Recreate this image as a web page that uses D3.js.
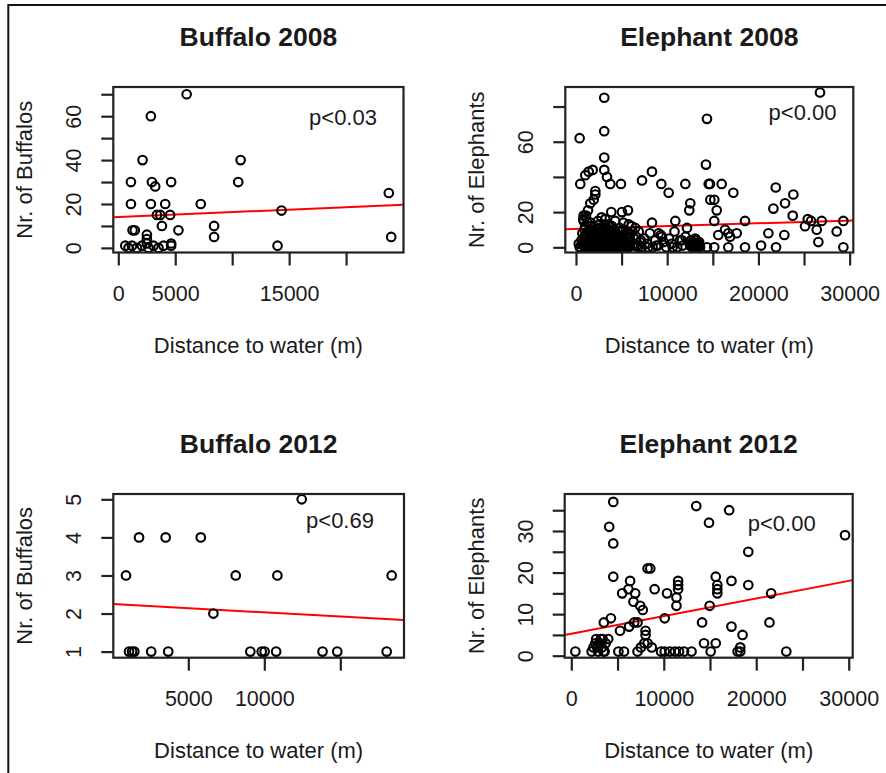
<!DOCTYPE html>
<html>
<head>
<meta http-equiv="Content-Type" content="text/html;charset=utf-8"/>
<title>Distance to water</title>
<script src="https://d3js.org/d3.v7.min.js"></script>
<style type="text/css">
	body { margin: 0; background: #fff; }
	svg text { font-family: "Liberation Sans", Arial, sans-serif; fill: #1a1a1a; }
	.pt { fill: none; stroke: #000; stroke-width: 2.1; }
	.box { fill: none; stroke: #222; stroke-width: 2.2; }
	.axis line { stroke: #222; stroke-width: 2.2; }
	.fit { stroke: #f00; stroke-width: 2; }
	.frame { fill: none; stroke: #111; stroke-width: 2; }
</style>
</head>
<body>
<script type="text/javascript">

//Points: [distance to water (m), count]
var buf08 = [
	[6000,70],[2860,60],[2130,40],[1110,30],[2950,30],[4640,30],[3240,28],
	[1110,20],[2860,20],[4120,20],[7240,20],[10530,30],[10740,40],
	[3390,15],[3680,15],[4550,15],[3830,10],[5280,8],[1250,8],[1450,8],
	[2510,6],[2510,4],[2510,2],[8410,10],[8410,5],[14330,17],[13980,1],
	[23750,25],[23960,5],
	[613,1],[900,0],[1200,1],[1640,0],[2075,1],[2650,0],[3090,1],[3530,0],[3970,1],[4640,1],[4640,2]
];

var ele08 = [
	//sparse points
	[3100,85],[3100,66],[400,62],[3100,51],[3100,44],[3400,40],[3760,36],[4930,36],[470,36],
	[1020,41],[1390,43],[1830,44],[2120,32],[2120,30],[1940,27],[1570,25],[1320,21],[840,18],[840,15],
	[3870,20],[3210,16],[5040,20],[5700,21],[7240,38],[8330,43],[9350,36],[10160,31],[11990,36],
	[14360,73],[14250,47],[14550,36],[12530,25],[12420,21],[10890,15],[8330,14],[5780,13],[6880,9],
	[9070,8],[9430,6],[12170,11],[11620,4],[13080,5],[14730,27],
	[26750,88],[14690,36],[15970,36],[17250,31],[15160,27],[15430,21],[15160,15],[18530,15],
	[16340,10],[16700,8],[15600,7],[17620,8],[16890,6],[16700,0],[15160,0],[18530,0],[20290,1],
	[21090,8],[21930,0],[22840,7],[21900,34],[21640,22],[22920,25],[23830,30],[23760,18],
	[25110,12],[25410,16],[25770,15],[26390,10],[26940,15],[26570,3],[28580,9],[29310,15],[29310,0],[14360,0],
	//dense cluster near water
	[300,2],[500,0],[600,4],[800,1],[900,6],[1000,0],[1100,3],[1200,8],[1300,1],[1400,5],[1500,10],
	[1600,2],[1700,0],[1800,7],[1900,4],[2000,12],[2100,1],[2200,9],[2300,3],[2400,0],[2500,6],
	[2600,11],[2700,2],[2800,5],[2900,0],[3000,8],[3100,3],[3200,13],[3300,1],[3400,6],[3500,0],
	[3600,10],[3700,4],[3800,2],[3900,7],[4000,0],[4100,5],[4200,1],[4300,9],[4400,3],[4500,0],
	[4600,6],[4700,2],[4800,11],[4900,4],[5000,0],[5200,7],[5400,2],[5600,5],[5800,0],[6000,3],
	[6200,9],[6400,1],[6600,6],[6800,0],[7000,3],
	[700,8],[1000,12],[1250,14],[1450,3],[1650,7],[1850,1],[2050,5],[2350,6],[2550,1],[2750,9],
	[2950,4],[3150,0],[3350,11],[3550,7],[3750,0],[3950,3],[4150,8],[4350,1],[4550,4],[4750,7],
	[4950,2],[5100,10],[5300,4],[5500,1],[5700,8],[5900,6],
	[800,16],[1100,18],[1600,14],[2400,15],[2800,17],[3600,13],[4300,15],[5200,14],[6100,12],[6500,11],
	[400,0],[650,2],[950,3],[1150,1],[1350,0],[1550,4],[1750,2],[1950,0],[2150,3],[2450,2],
	[2650,4],[2850,1],[3050,2],[3250,4],[3450,2],[3650,1],[3850,0],[4050,2],[4250,3],[4450,1],
	[4650,0],[4850,3],[5050,1],[5250,2],[5450,0],[5650,3],[5850,1],[6300,2],[6700,1],[7100,4],
	[1050,6],[1350,9],[1750,10],[2250,8],[2650,7],[3050,10],[3450,9],[3850,5],[4250,6],[4650,9],
	[5150,5],[5550,7],[950,10],[2150,6],[2950,6],[3750,8],[4450,7],[1550,12],[2550,13],[3950,12],
	[7200,0],[7500,5],[7800,2],[8100,8],[8400,0],[8700,4],[9000,1],[9300,7],[9600,3],[9900,0],
	[10200,5],[10500,2],[10800,9],[11100,0],[11400,4],[11700,1],[12000,6],[7900,0],[8800,1],[10600,0],
	[12500,1],[12700,0],[12800,3],[12900,1],[13000,0],[13100,4],[13200,2],[13300,0],[13400,1],
	[13500,3],[13600,0],[13050,2],[12650,2],[12850,0],[13250,1],[12600,4],[13450,2]
];

var buf12 = [
	[900,3],[1760,4],[3510,4],[5820,4],[8120,3],[10860,3],[12460,5],[18380,3],[6650,2],
	[1100,1],[1300,1],[1450,1],[2560,1],[3680,1],[9080,1],[9830,1],[10020,1],[10780,1],
	[13830,1],[14800,1],[18050,1]
];

var ele12 = [
	[440,1],[4100,31],[4540,27],[4540,37],[4540,19],[3520,8],[4280,9],[3990,4],[2690,4],[3180,4],
	[3720,3],[2400,2],[2900,1],[3300,2],[3600,1],[2200,1],[3000,3],[3400,4],[2600,3],[5090,1],
	[5270,6],[5500,15],[6360,18],[6180,16],[6910,15],[6720,13],[7450,12],[7730,11],[6250,7],[6800,8],
	[7160,8],[8030,6],[8030,5],[7890,3],[7520,2],[7160,1],[8250,3],[8250,21],[8540,21],[9010,16],
	[10100,9],[10350,15],[11370,14],[11370,12],[11550,18],[11550,17],[11550,16],[10100,1],[10650,1],
	[11200,1],[11650,1],[12200,1],[13000,1],[14140,8],[14960,12],[14890,32],[13510,36],[17070,35],
	[19140,25],[29600,29],[17320,18],[19140,17],[15620,19],[15790,17],[15790,16],[15790,15],
	[21610,15],[21430,8],[17320,7],[18520,5],[14350,3],[15620,3],[18270,2],[18270,1],[15070,1],
	[17980,1],[23250,1],[9700,1],[8700,2],[5700,1],[2800,2],[3500,1],[3100,3]
];

//Fitted lines [intercept, slope] and p labels
var fits = [[14.08, 0.000223], [10.5, 0.000158], [2.25, -0.000022], [5.28, 0.000424]];
var pLabels = ["p<0.03", "p<0.00", "p<0.69", "p<0.00"];
var titles = ["Buffalo 2008", "Elephant 2008", "Buffalo 2012", "Elephant 2012"];
var yTitles = ["Nr. of Buffalos", "Nr. of Elephants", "Nr. of Buffalos", "Nr. of Elephants"];

//Ticks, and which of them carry a label
var xTicks = [[0,5000,10000,15000,20000], [0,5000,10000,15000,20000,25000,30000],
	[5000,10000,15000], [0,5000,10000,15000,20000,25000,30000]];
var xLabels = [[0,5000,15000], [0,10000,20000,30000], [5000,10000], [0,10000,20000,30000]];
var yTicks = [[0,10,20,30,40,50,60,70], [0,20,40,60,80], [1,2,3,4,5], [0,5,10,15,20,25,30,35]];
var yLabels = [[0,20,40,60], [0,20,60], [1,2,3,4,5], [0,10,20,30]];

//Panel layout (pixels) and axis extents
var panels = [
	{ data: buf08, box: [113.3, 87, 403.5, 252.5], xd: [-438, 25040], yd: [-2.1, 73.3], p: [343, 124.5] },
	{ data: ele08, box: [565.3, 87, 853.3, 252.5], xd: [-1170, 30400], yd: [-2.95, 91.1], p: [802.5, 120] },
	{ data: buf12, box: [113.3, 494, 404, 657.7], xd: [66, 19190], yd: [0.84, 5.14], p: [340, 528] },
	{ data: ele12, box: [564.7, 494, 852.7, 657.7], xd: [-714, 30430], yd: [-0.48, 38.9], p: [781.7, 530.5] }
];

var w = 886, h = 773;

var svg = d3.select("body").append("svg")
	.attr("width", w)
	.attr("height", h);

//Outer frame of the screenshot
svg.append("path")
	.attr("class", "frame")
	.attr("d", "M" + w + ",5 H8.3 V" + h);

panels.forEach(function(pn, i) {
	var l = pn.box[0], t = pn.box[1], r = pn.box[2], b = pn.box[3];

	var x = d3.scaleLinear().domain(pn.xd).range([l, r]);
	var y = d3.scaleLinear().domain(pn.yd).range([b, t]);

	var g = svg.append("g");

	//x axis
	var xa = g.append("g")
		.attr("class", "axis")
		.attr("transform", "translate(0," + b + ")")
		.call(d3.axisBottom(x)
			.tickValues(xTicks[i])
			.tickSize(13)
			.tickSizeOuter(0)
			.tickFormat(function(d) { return xLabels[i].indexOf(d) >= 0 ? String(d) : ""; }));
	xa.select(".domain").remove();
	xa.selectAll("text")
		.attr("y", 48)
		.attr("dy", 0)
		.style("font-size", "21.5px");

	//y axis, labels turned parallel to the axis
	var ya = g.append("g")
		.attr("class", "axis")
		.attr("transform", "translate(" + l + ",0)")
		.call(d3.axisLeft(y)
			.tickValues(yTicks[i])
			.tickSize(12)
			.tickSizeOuter(0)
			.tickFormat(function(d) { return yLabels[i].indexOf(d) >= 0 ? String(d) : ""; }));
	ya.select(".domain").remove();
	ya.selectAll("text")
		.attr("transform", "rotate(-90)")
		.attr("x", 0)
		.attr("y", -32)
		.attr("dy", 0)
		.attr("text-anchor", "middle")
		.style("font-size", "21.5px");

	//fitted line
	g.append("line")
		.attr("class", "fit")
		.attr("x1", x(pn.xd[0]))
		.attr("x2", x(pn.xd[1]))
		.attr("y1", y(fits[i][0] + fits[i][1] * pn.xd[0]))
		.attr("y2", y(fits[i][0] + fits[i][1] * pn.xd[1]));

	//points
	g.selectAll("circle")
		.data(pn.data)
		.enter()
		.append("circle")
		.attr("class", "pt")
		.attr("cx", function(d) { return x(d[0]); })
		.attr("cy", function(d) { return y(d[1]); })
		.attr("r", 4.3);

	//plot box
	g.append("rect")
		.attr("class", "box")
		.attr("x", l)
		.attr("y", t)
		.attr("width", r - l)
		.attr("height", b - t);

	//titles
	g.append("text")
		.attr("x", (l + r) / 2)
		.attr("y", t - 41.5)
		.attr("text-anchor", "middle")
		.style("font-size", "26.5px")
		.style("font-weight", "bold")
		.text(titles[i]);

	g.append("text")
		.attr("x", (l + r) / 2)
		.attr("y", b + 100.5)
		.attr("text-anchor", "middle")
		.style("font-size", "22px")
		.text("Distance to water (m)");

	g.append("text")
		.attr("transform", "translate(" + (l - 81) + "," + ((t + b) / 2) + ") rotate(-90)")
		.attr("text-anchor", "middle")
		.style("font-size", "22px")
		.text(yTitles[i]);

	g.append("text")
		.attr("x", pn.p[0])
		.attr("y", pn.p[1])
		.attr("text-anchor", "middle")
		.style("font-size", "22px")
		.text(pLabels[i]);
});

</script>
</body>
</html>
